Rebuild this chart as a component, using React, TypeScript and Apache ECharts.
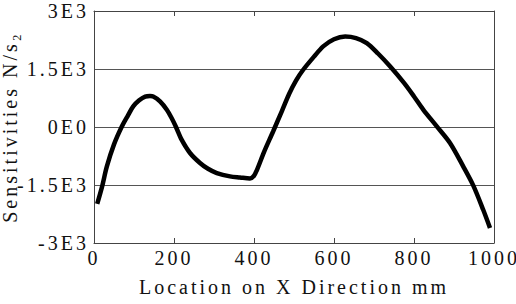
import React, { useEffect, useRef } from "react";
import * as echarts from "echarts";

const xValues = [8, 20, 32, 50, 69, 85, 98, 113, 128, 140, 148, 165, 182, 194, 205, 219, 240, 265, 285, 307, 340, 365, 390, 400, 407, 425, 448, 470, 488, 505, 523, 550, 573, 600, 628, 655, 682, 710, 740, 775, 800, 823, 857, 890, 923, 948, 973, 990];
const yValues = [-1990, -1550, -1025, -450, 0, 300, 533, 690, 785, 800, 790, 662, 447, 232, 0, -328, -672, -930, -1080, -1190, -1277, -1305, -1330, -1260, -1120, -650, -110, 420, 860, 1200, 1480, 1820, 2085, 2270, 2340, 2300, 2170, 1900, 1570, 1140, 790, 450, 15, -414, -1018, -1510, -2140, -2610];

const yTickValues = [-3000, -1500, 0, 1500, 3000];
const yTickLabels = ["-3E3", "-1.5E3", "0E0", "1.5E3", "3E3"];
const xTickInterval = 200;

const xAxisName = "Location on X Direction mm";
const yAxisName = "Sensitivities N/s\u2082";

export default function App() {
  const ref = useRef<HTMLDivElement>(null);
  useEffect(() => {
    if (!ref.current) return;
    const chart = echarts.init(ref.current, undefined, { renderer: "svg" });
    const font = "'Liberation Serif', 'Times New Roman', Times, serif";
    const axisColor = "#444";
    chart.setOption({
      animation: false,
      backgroundColor: "#fff",
      textStyle: { fontFamily: font },
      grid: { left: 94, right: 22, top: 11, bottom: 61, outerBoundsMode: "none" },
      xAxis: [
        {
          type: "value",
          min: 0,
          max: 1000,
          interval: xTickInterval,
          position: "bottom",
          name: xAxisName,
          nameLocation: "middle",
          nameGap: 34,
          nameTextStyle: { fontFamily: font, fontSize: 20, color: "#111" },
          axisLine: { show: true, onZero: false, lineStyle: { color: axisColor, width: 1 } },
          axisTick: { show: true, inside: true, length: 5, lineStyle: { color: axisColor } },
          axisLabel: {
            fontFamily: font,
            fontSize: 20,
            color: "#111",
            margin: 5,
            formatter: (v: number) => String(v),
          },
          splitLine: { show: false },
        },
        {
          type: "value",
          min: 0,
          max: 1000,
          interval: xTickInterval,
          position: "top",
          axisLine: { show: true, onZero: false, lineStyle: { color: axisColor, width: 1 } },
          axisTick: { show: true, inside: true, length: 5, lineStyle: { color: axisColor } },
          axisLabel: { show: false },
          splitLine: { show: false },
        },
      ],
      yAxis: [
        {
          type: "value",
          min: -3000,
          max: 3000,
          interval: 1500,
          position: "left",
          name: yAxisName,
          nameLocation: "middle",
          nameGap: 74,
          nameTextStyle: { fontFamily: font, fontSize: 20, color: "#111" },
          axisLine: { show: true, onZero: false, lineStyle: { color: axisColor, width: 1 } },
          axisTick: { show: false },
          axisLabel: {
            fontFamily: font,
            fontSize: 20,
            color: "#111",
            margin: 5,
            formatter: (v: number) => {
              const i = yTickValues.indexOf(v);
              return i >= 0 ? yTickLabels[i] : "";
            },
          },
          splitLine: { show: true, lineStyle: { color: "#555", width: 1 } },
        },
        {
          type: "value",
          min: -3000,
          max: 3000,
          interval: 1500,
          position: "right",
          axisLine: { show: true, onZero: false, lineStyle: { color: axisColor, width: 1 } },
          axisTick: { show: false },
          axisLabel: { show: false },
          splitLine: { show: false },
        },
      ],
      series: [
        {
          type: "line",
          xAxisIndex: 0,
          yAxisIndex: 0,
          data: xValues.map((x, i) => [x, yValues[i]]),
          showSymbol: false,
          smooth: 0.3,
          lineStyle: { color: "#000", width: 4.5 },
        },
      ],
    });
    return () => chart.dispose();
  }, []);
  return (
    <div
      ref={ref}
      style={{
        position: "fixed",
        left: 0,
        top: 0,
        width: 516,
        height: 304,
        letterSpacing: "3px",
        fontFamily: "'Liberation Serif', serif",
      }}
    />
  );
}
